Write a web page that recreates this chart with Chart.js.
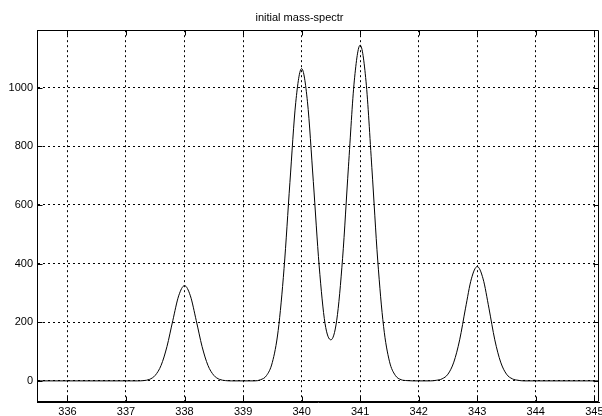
<!DOCTYPE html>
<html lang="en">
<head>
  <meta charset="UTF-8">
  <title>initial mass-spectr</title>
  <script src="https://cdn.jsdelivr.net/npm/chart.js"></script>
  <style>
    html, body { margin: 0; padding: 0; background: #fff; overflow: hidden; }
    .grafico { position: relative; width: 602px; height: 416px; }
  </style>
</head>
<body>
  <div class="grafico">
    <canvas id="id_grafico"></canvas>
  </div>

  <script>
    // valeurs (masse / intensite)
    const masses = [
      335.48, 337.1, 337.2, 337.3, 337.4, 337.5, 337.6, 337.7, 337.8, 337.9,
      338.0, 338.1, 338.2, 338.3, 338.4, 338.5, 338.6, 338.7, 338.8,
      339.2, 339.3, 339.4, 339.5, 339.6, 339.7, 339.8, 339.9,
      340.0, 340.1, 340.2, 340.3, 340.4, 340.5, 340.6, 340.7, 340.8, 340.9,
      341.0, 341.1, 341.2, 341.3, 341.4, 341.5, 341.6, 341.7, 341.8, 341.9,
      342.2, 342.3, 342.4, 342.5, 342.6, 342.7, 342.8, 342.9,
      343.0, 343.1, 343.2, 343.3, 343.4, 343.5, 343.6, 343.7, 343.8, 345.08
    ];
    const intensites = [
      0, 0, 0, 1, 5, 19, 53, 117, 206, 290,
      325, 290, 206, 117, 53, 19, 5, 1, 0,
      0, 4, 18, 63, 172, 383, 676, 950,
      1065, 952, 680, 392, 196, 140, 207, 418, 730, 1023,
      1145, 1022, 727, 412, 186, 67, 19, 4, 1, 0,
      0, 2, 7, 23, 64, 140, 248, 348,
      390, 348, 248, 140, 64, 23, 7, 2, 0, 0
    ];
    const titre = 'initial mass-spectr';
    const xMin = 335.48, xMax = 345.08;
    const yMin = -72, yMax = 1196;

    Chart.defaults.font.family = '"Liberation Sans", Arial, sans-serif';
    Chart.defaults.font.size = 11;
    Chart.defaults.color = '#000';

    // cadre du haut/droite + petites graduations vers l'interieur
    const cadre = {
      id: 'cadre',
      afterDatasetsDraw(chart) {
        const { ctx, chartArea: a, scales: { x, y } } = chart;
        const L = Math.round(a.left) + 0.5, R = Math.round(a.right) - 0.5;
        const T = Math.round(a.top) + 0.5, B = Math.round(a.bottom) - 0.5;
        ctx.save();
        ctx.strokeStyle = '#000';
        ctx.lineWidth = 1;
        ctx.beginPath();
        ctx.moveTo(L, T); ctx.lineTo(R, T); ctx.lineTo(R, B);
        ctx.lineTo(L, B); ctx.lineTo(L, T);
        x.ticks.forEach(t => {
          const px = Math.round(x.getPixelForValue(t.value)) + 0.5;
          ctx.moveTo(px, B); ctx.lineTo(px, B - 5);
          ctx.moveTo(px, T); ctx.lineTo(px, T + 5);
        });
        y.ticks.forEach(t => {
          const py = Math.round(y.getPixelForValue(t.value)) + 0.5;
          ctx.moveTo(L, py); ctx.lineTo(L + 5, py);
          ctx.moveTo(R, py); ctx.lineTo(R - 5, py);
        });
        ctx.stroke();
        ctx.restore();
      }
    };

    const ctx = document.getElementById('id_grafico').getContext('2d');
    var graficoSpectre = new Chart(ctx, {
      type: 'line',
      data: {
        datasets: [
          {
            label: titre,
            data: masses.map((m, i) => ({ x: m, y: intensites[i] })),
            borderColor: '#000',
            borderWidth: 1,
            pointRadius: 0,
            cubicInterpolationMode: 'monotone',
            fill: false
          }
        ]
      },
      options: {
        responsive: true,
        maintainAspectRatio: false,
        animation: false,
        layout: { padding: { left: 0, right: 3, top: 0, bottom: 0 } },
        plugins: {
          legend: { display: false },
          tooltip: { enabled: false },
          title: {
            display: true,
            text: titre,
            color: '#000',
            font: { size: 11, weight: 'normal' },
            padding: { top: 11, bottom: 6 }
          }
        },
        scales: {
          x: {
            type: 'linear',
            min: xMin,
            max: xMax,
            grid: { color: '#000', lineWidth: 1, drawTicks: false },
            border: { display: true, color: '#000', dash: [2, 3] },
            ticks: {
              stepSize: 1, includeBounds: false, padding: 3, maxRotation: 0, autoSkip: false,
              callback: v => String(v)
            },
            afterFit(scale) {
              scale.height = 14;
              scale.paddingLeft = 0;
              scale.paddingRight = 0;
            }
          },
          y: {
            min: yMin,
            max: yMax,
            grid: { color: '#000', lineWidth: 1, drawTicks: false },
            border: { display: true, color: '#000', dash: [2, 3] },
            ticks: { stepSize: 200, includeBounds: false, padding: 4, callback: v => String(v) },
            afterFit(scale) {
              scale.width = 37;
              scale.paddingTop = 0;
              scale.paddingBottom = 0;
            }
          }
        }
      },
      plugins: [cadre]
    });
  </script>
</body>
</html>
